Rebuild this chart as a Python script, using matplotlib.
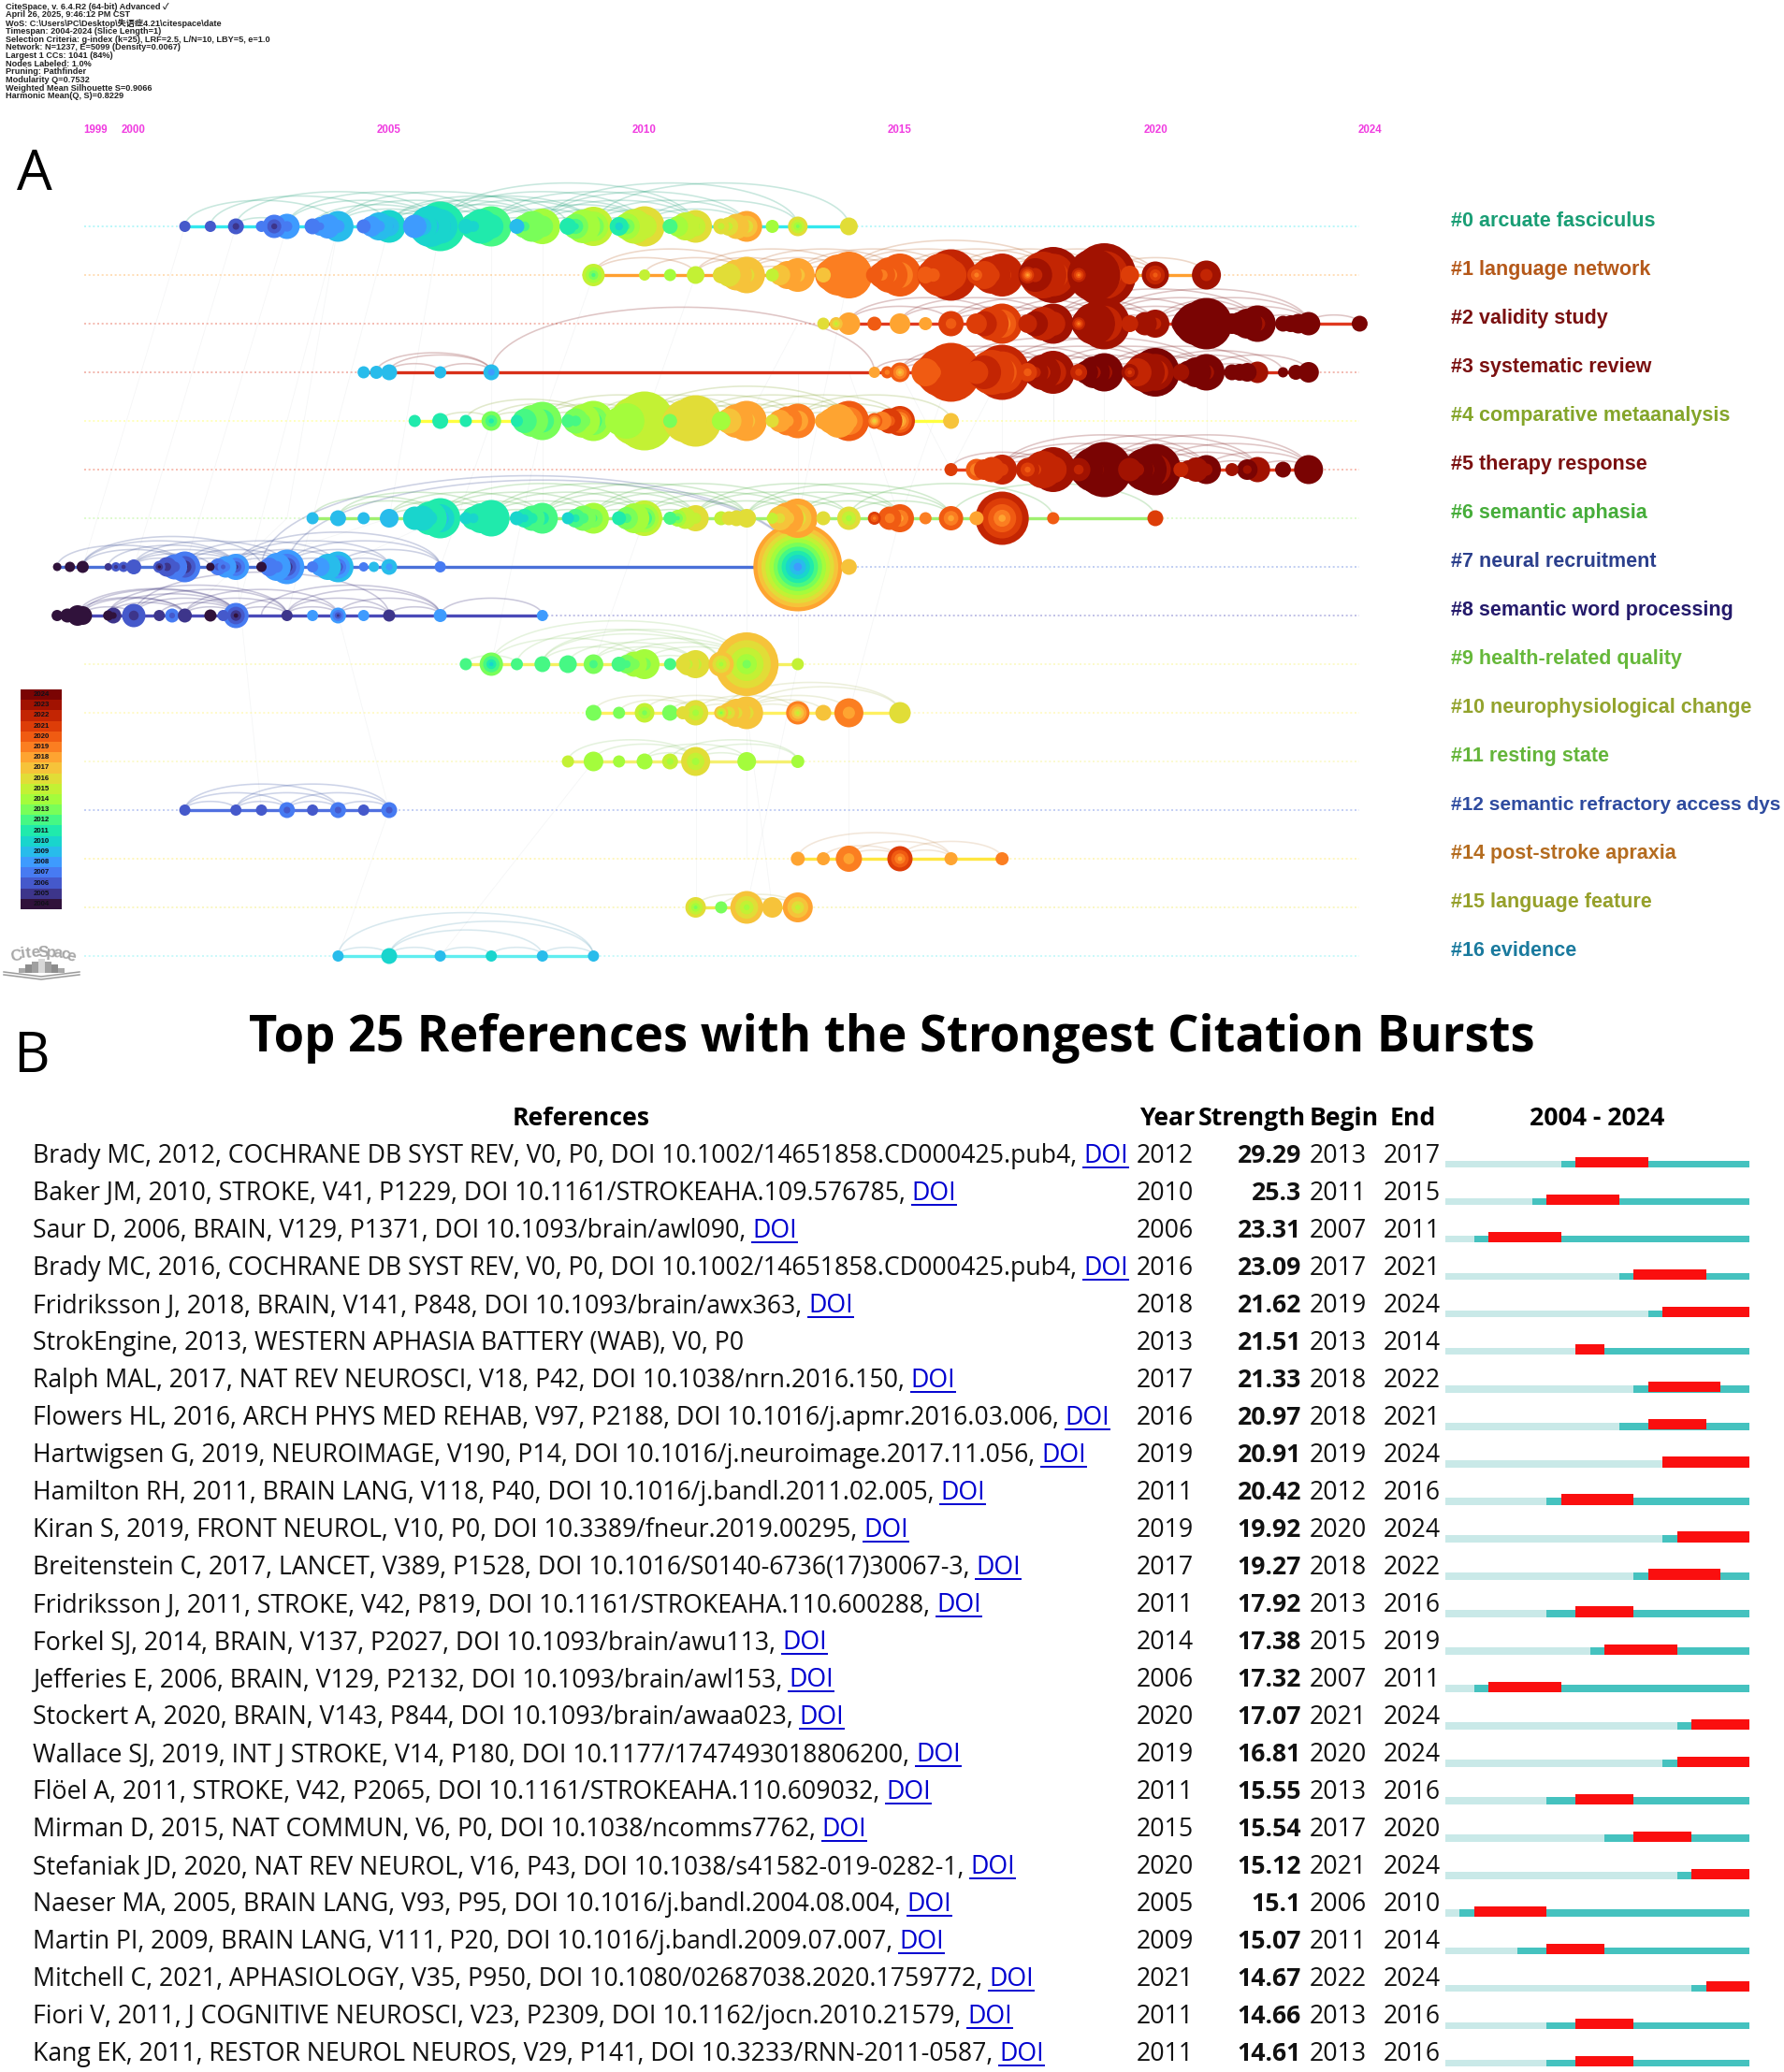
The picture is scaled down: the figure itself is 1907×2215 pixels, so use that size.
import numpy as np
import matplotlib
matplotlib.use("Agg")
import matplotlib.pyplot as plt
from matplotlib.collections import LineCollection

W, H = 1908, 2215
PANEL_A_BOTTOM = 1063

info_lines = [
    "CiteSpace, v. 6.4.R2 (64-bit) Advanced ✓",
    "April 26, 2025, 9:46:12 PM CST",
    "WoS: C:\\Users\\PC\\Desktop\\失语症4.21\\citespace\\date",
    "Timespan: 2004-2024 (Slice Length=1)",
    "Selection Criteria: g-index (k=25), LRF=2.5, L/N=10, LBY=5, e=1.0",
    "Network: N=1237, E=5099 (Density=0.0067)",
    "Largest 1 CCs: 1041 (84%)",
    "Nodes Labeled: 1.0%",
    "Pruning: Pathfinder",
    "Modularity Q=0.7532",
    "Weighted Mean Silhouette S=0.9066",
    "Harmonic Mean(Q, S)=0.8229",
]
axis_years = [1999, 2000, 2005, 2010, 2015, 2020, 2024]
legend_years = list(range(2004, 2025))

cluster_names = [
    "#0 arcuate fasciculus", "#1 language network", "#2 validity study", "#3 systematic review",
    "#4 comparative metaanalysis", "#5 therapy response", "#6 semantic aphasia", "#7 neural recruitment",
    "#8 semantic word processing", "#9 health-related quality", "#10 neurophysiological change",
    "#11 resting state", "#12 semantic refractory access dys", "#14 post-stroke apraxia",
    "#15 language feature", "#16 evidence",
]
cluster_colors = [
    "#1a9e75", "#b5591a", "#7a1010", "#7a1010", "#84a52a", "#7a1010", "#46ad3a", "#2b3f8c",
    "#241a6b", "#66b83a", "#93a32d", "#64b53a", "#2e4b9f", "#b46c20", "#96a02a", "#1a7a9e",
]
line_colors = [
    "#33e8ee", "#ffa030", "#e03a20", "#d8301a", "#ffff40", "#e8401e", "#a0f070", "#4a70d8",
    "#4a4ab8", "#f5f060", "#fff060", "#f5f070", "#5070e0", "#ffe640", "#f0e850", "#60eef0",
]

# node year, diameter, first and last citation year for each cluster
c0_year = [2001, 2001.5, 2002, 2002.5, 2002.75, 2003, 2003.5, 2004, 2004.5, 2005, 2005.5, 2006, 2006.5, 2007, 2007.5, 2008, 2008.5, 2009, 2009.5, 2010, 2010.5, 2011, 2011.5, 2012, 2012.5, 2013, 2014]
c0_size = [12, 12, 17, 12, 25, 27, 17, 33, 15, 35, 25, 53, 16, 43, 16, 38, 18, 42, 20, 43, 16, 35, 17, 33, 14, 21, 19]
c0_first = [2006, 2006, 2005, 2007, 2005, 2007, 2007, 2008, 2007, 2008, 2008, 2008, 2010, 2010, 2009, 2012, 2011, 2011, 2010, 2014, 2012, 2014, 2015, 2015, 2014, 2013, 2016]
c0_last = [2006, 2006, 2006, 2007, 2007, 2008, 2007, 2009, 2007, 2010, 2008, 2011, 2010, 2012, 2009, 2014, 2011, 2015, 2011, 2016, 2012, 2016, 2016, 2018, 2014, 2016, 2016]
c0_stack = [(2003.8, 26, 2008, 2008), (2003.65, 20, 2007, 2008), (2004.8, 30, 2008, 2009), (2004.65, 22, 2008, 2008), (2005.8, 44, 2009, 2010), (2005.65, 32, 2008, 2010), (2006.8, 37, 2011, 2011), (2006.65, 28, 2010, 2011), (2007.8, 33, 2013, 2013), (2007.65, 25, 2012, 2013), (2008.8, 36, 2014, 2014), (2008.65, 27, 2011, 2013), (2009.8, 37, 2015, 2015), (2009.65, 28, 2012, 2014), (2010.8, 30, 2015, 2015), (2010.65, 22, 2014, 2014), (2011.8, 27, 2017, 2017), (2011.65, 20, 2015, 2016)]

c1_year = [2009, 2010, 2010.5, 2011, 2011.5, 2012, 2012.5, 2013, 2013.5, 2014, 2014.5, 2015, 2015.5, 2016, 2016.5, 2017, 2017.5, 2018, 2018.5, 2019, 2019.5, 2020, 2021]
c1_size = [24, 12, 13, 19, 18, 39, 14, 36, 16, 50, 18, 46, 18, 55, 20, 46, 18, 60, 20, 68, 20, 29, 31]
c1_first = [2012, 2015, 2014, 2015, 2016, 2016, 2015, 2017, 2017, 2018, 2020, 2018, 2020, 2020, 2019, 2021, 2018, 2019, 2019, 2019, 2021, 2020, 2022]
c1_last = [2015, 2015, 2014, 2015, 2016, 2017, 2015, 2018, 2017, 2019, 2020, 2020, 2020, 2022, 2021, 2022, 2022, 2023, 2023, 2023, 2021, 2023, 2023]
c1_stack = [(2011.8, 33, 2017, 2017), (2011.65, 25, 2016, 2016), (2012.8, 30, 2018, 2018), (2012.65, 22, 2017, 2017), (2013.8, 44, 2019, 2019), (2013.65, 34, 2019, 2019), (2014.8, 38, 2019, 2020), (2014.65, 28, 2019, 2020), (2015.8, 46, 2021, 2021), (2015.65, 34, 2020, 2021), (2016.8, 40, 2021, 2022), (2016.65, 30, 2021, 2021), (2017.8, 50, 2022, 2022), (2017.65, 36, 2022, 2023), (2018.8, 56, 2023, 2023), (2018.65, 40, 2023, 2023)]

c2_year = [2013.5, 2013.75, 2014, 2014.5, 2015, 2015.5, 2016, 2016.5, 2017, 2017.5, 2018, 2018.5, 2019, 2019.5, 2020, 2020.5, 2021, 2021.5, 2022, 2022.5, 2023, 2024]
c2_size = [13, 14, 24, 15, 22, 14, 27, 22, 43, 20, 43, 18, 55, 18, 30, 20, 55, 22, 39, 17, 25, 17]
c2_first = [2016, 2015, 2018, 2020, 2018, 2018, 2020, 2021, 2018, 2022, 2021, 2019, 2020, 2022, 2022, 2024, 2023, 2024, 2023, 2024, 2024, 2024]
c2_last = [2016, 2017, 2018, 2020, 2018, 2018, 2021, 2021, 2021, 2022, 2023, 2023, 2023, 2022, 2023, 2024, 2024, 2024, 2024, 2024, 2024, 2024]
c2_stack = [(2016.8, 36, 2021, 2021), (2016.65, 27, 2022, 2022), (2017.8, 36, 2022, 2022), (2017.65, 27, 2023, 2023), (2018.8, 45, 2023, 2023), (2018.65, 32, 2023, 2023), (2019.8, 25, 2023, 2023), (2020.8, 46, 2024, 2024), (2020.65, 34, 2024, 2024), (2021.8, 32, 2024, 2024), (2021.65, 25, 2024, 2024), (2022.8, 21, 2024, 2024), (2022.65, 18, 2024, 2024)]

c3_year = [2004.5, 2004.75, 2005, 2006, 2007, 2014.5, 2014.75, 2015, 2015.5, 2016, 2016.5, 2017, 2017.5, 2018, 2018.5, 2019, 2019.5, 2020, 2020.5, 2021, 2021.5, 2022, 2022.5, 2022.75, 2023]
c3_size = [13, 14, 17, 13, 17, 12, 13, 21, 30, 63, 25, 59, 20, 46, 18, 41, 18, 52, 18, 39, 17, 23, 11, 16, 22]
c3_first = [2009, 2009, 2009, 2009, 2008, 2018, 2019, 2017, 2020, 2020, 2021, 2018, 2020, 2021, 2021, 2023, 2021, 2020, 2023, 2023, 2024, 2023, 2024, 2024, 2024]
c3_last = [2009, 2009, 2009, 2009, 2009, 2018, 2020, 2020, 2020, 2021, 2021, 2022, 2021, 2023, 2022, 2024, 2023, 2024, 2023, 2024, 2024, 2023, 2024, 2024, 2024]
c3_stack = [(2015.8, 52, 2021, 2021), (2015.65, 40, 2020, 2021), (2016.8, 48, 2021, 2021), (2016.65, 36, 2022, 2022), (2017.8, 38, 2022, 2023), (2017.65, 28, 2022, 2023), (2018.8, 34, 2023, 2024), (2018.65, 25, 2024, 2024), (2019.8, 42, 2023, 2023), (2019.65, 30, 2022, 2022), (2020.8, 32, 2024, 2024), (2020.65, 25, 2024, 2024), (2021.8, 20, 2024, 2024), (2021.65, 18, 2024, 2024)]

c4_year = [2005.5, 2006, 2006.5, 2007, 2007.5, 2008, 2008.5, 2009, 2009.5, 2010, 2010.5, 2011, 2011.5, 2012, 2012.5, 2013, 2013.5, 2014, 2014.5, 2015, 2016]
c4_size = [13, 17, 13, 21, 13, 41, 14, 43, 30, 63, 15, 55, 20, 43, 14, 37, 18, 43, 17, 32, 17]
c4_first = [2011, 2011, 2011, 2011, 2011, 2011, 2012, 2011, 2014, 2014, 2013, 2015, 2014, 2017, 2016, 2017, 2018, 2017, 2016, 2016, 2017]
c4_last = [2011, 2011, 2011, 2013, 2011, 2013, 2012, 2014, 2014, 2015, 2013, 2016, 2014, 2018, 2016, 2019, 2018, 2020, 2020, 2021, 2017]
c4_stack = [(2007.8, 34, 2013, 2013), (2007.65, 26, 2012, 2012), (2008.8, 36, 2013, 2014), (2008.65, 27, 2012, 2013), (2009.8, 52, 2015, 2015), (2009.65, 38, 2014, 2014), (2010.8, 46, 2016, 2016), (2010.65, 33, 2016, 2016), (2011.8, 36, 2018, 2018), (2011.65, 27, 2017, 2017), (2012.8, 31, 2018, 2019), (2012.65, 24, 2018, 2018), (2013.8, 36, 2018, 2018), (2013.65, 27, 2018, 2018), (2014.8, 27, 2020, 2021), (2014.65, 20, 2019, 2019)]

c5_year = [2016, 2016.5, 2017, 2017.5, 2018, 2018.5, 2019, 2019.5, 2020, 2020.5, 2021, 2021.5, 2022, 2022.5, 2023]
c5_size = [14, 23, 32, 25, 48, 25, 59, 25, 55, 16, 31, 14, 27, 17, 31]
c5_first = [2021, 2018, 2021, 2020, 2021, 2022, 2023, 2023, 2022, 2022, 2023, 2023, 2023, 2024, 2024]
c5_last = [2021, 2020, 2022, 2022, 2023, 2023, 2024, 2023, 2024, 2022, 2024, 2023, 2023, 2024, 2024]
c5_stack = [(2016.8, 27, 2021, 2021), (2016.65, 22, 2021, 2021), (2017.8, 40, 2022, 2022), (2017.65, 30, 2021, 2022), (2018.8, 48, 2023, 2024), (2018.65, 36, 2024, 2024), (2019.8, 46, 2023, 2024), (2019.65, 34, 2023, 2024), (2020.8, 26, 2023, 2023), (2020.65, 20, 2023, 2023), (2021.8, 22, 2023, 2024)]

c6_year = [2003.5, 2004, 2004.5, 2005, 2005.5, 2006, 2006.5, 2007, 2007.5, 2008, 2008.5, 2009, 2009.5, 2010, 2010.5, 2011, 2011.5, 2012, 2012.5, 2013, 2013.5, 2014, 2014.5, 2015, 2015.5, 2016, 2016.5, 2017, 2018, 2020]
c6_size = [13, 17, 13, 20, 25, 43, 13, 39, 15, 33, 13, 33, 15, 38, 14, 28, 15, 20, 12, 42, 15, 25, 14, 30, 13, 26, 15, 57, 13, 17]
c6_first = [2009, 2009, 2009, 2009, 2010, 2008, 2010, 2011, 2010, 2011, 2010, 2012, 2011, 2010, 2012, 2015, 2015, 2016, 2015, 2015, 2016, 2014, 2019, 2018, 2019, 2018, 2018, 2018, 2020, 2021]
c6_last = [2009, 2009, 2009, 2009, 2010, 2011, 2010, 2011, 2010, 2012, 2010, 2014, 2011, 2015, 2012, 2016, 2015, 2016, 2015, 2018, 2016, 2016, 2021, 2020, 2019, 2020, 2018, 2022, 2020, 2021]
c6_stack = [(2005.8, 36, 2010, 2011), (2005.65, 27, 2010, 2010), (2006.8, 32, 2011, 2011), (2006.65, 25, 2010, 2011), (2007.8, 27, 2011, 2012), (2007.65, 20, 2010, 2011), (2008.8, 27, 2012, 2013), (2008.65, 20, 2011, 2012), (2009.8, 32, 2014, 2014), (2009.65, 24, 2012, 2013), (2010.8, 23, 2015, 2015), (2010.65, 18, 2012, 2014), (2011.8, 17, 2016, 2016), (2011.65, 15, 2016, 2016), (2012.8, 34, 2017, 2018), (2012.65, 26, 2016, 2017), (2014.8, 25, 2019, 2020)]

c7_year = [1998.5, 1998.75, 1999, 1999.5, 1999.65, 1999.8, 2000, 2000.5, 2001, 2001.5, 2001.75, 2002, 2002.5, 2003, 2003.5, 2004, 2004.5, 2004.7, 2005, 2006, 2013, 2014]
c7_size = [9, 11, 13, 8, 10, 11, 16, 13, 33, 9, 12, 28, 11, 37, 12, 33, 10, 11, 17, 12, 95, 17]
c7_first = [2004, 2004, 2004, 2005, 2005, 2005, 2006, 2004, 2004, 2004, 2006, 2005, 2004, 2004, 2007, 2005, 2007, 2009, 2008, 2007, 2008, 2017]
c7_last = [2004, 2004, 2004, 2005, 2006, 2006, 2006, 2006, 2007, 2004, 2007, 2008, 2004, 2008, 2007, 2009, 2007, 2009, 2009, 2007, 2018, 2017]
c7_stack = [(2000.8, 27, 2006, 2007), (2000.65, 21, 2005, 2006), (2001.8, 23, 2007, 2008), (2001.65, 18, 2006, 2007), (2002.8, 30, 2007, 2008), (2002.65, 20, 2007, 2007), (2003.8, 28, 2009, 2009), (2003.65, 20, 2008, 2008)]

c8_year = [1998.5, 1998.7, 1998.9, 1999, 1999.5, 1999.6, 2000, 2000.5, 2000.75, 2001, 2001.5, 2001.75, 2002, 2003, 2003.5, 2004, 2004.5, 2005, 2006, 2008]
c8_size = [12, 15, 22, 20, 11, 17, 25, 12, 15, 15, 13, 12, 27, 12, 12, 17, 12, 13, 14, 12]
c8_first = [2004, 2004, 2004, 2004, 2004, 2004, 2005, 2005, 2006, 2005, 2004, 2006, 2004, 2005, 2008, 2005, 2008, 2005, 2008, 2008]
c8_last = [2004, 2004, 2004, 2004, 2004, 2005, 2006, 2005, 2007, 2005, 2004, 2006, 2007, 2005, 2008, 2008, 2008, 2005, 2008, 2008]
c8_stack = []

c9_year = [2006.5, 2007, 2007.5, 2008, 2008.5, 2009, 2009.5, 2010, 2010.5, 2010.75, 2011, 2011.5, 2012, 2013]
c9_size = [13, 25, 13, 17, 19, 21, 16, 32, 13, 16, 30, 27, 68, 13]
c9_first = [2012, 2010, 2012, 2012, 2012, 2012, 2012, 2013, 2012, 2016, 2015, 2014, 2013, 2015]
c9_last = [2012, 2013, 2012, 2012, 2012, 2013, 2012, 2014, 2012, 2016, 2016, 2017, 2017, 2015]
c9_stack = [(2009.8, 27, 2013, 2014), (2009.65, 20, 2012, 2013), (2010.85, 24, 2015, 2016)]

c10_year = [2009, 2009.5, 2010, 2010.5, 2010.75, 2011, 2011.5, 2012, 2013, 2013.5, 2014, 2015]
c10_size = [17, 13, 21, 17, 14, 27, 15, 35, 25, 17, 31, 23]
c10_first = [2013, 2013, 2013, 2013, 2016, 2014, 2013, 2016, 2015, 2017, 2018, 2016]
c10_last = [2013, 2013, 2015, 2013, 2016, 2016, 2017, 2017, 2019, 2017, 2019, 2016]
c10_stack = [(2011.8, 30, 2016, 2017), (2011.65, 22, 2015, 2017)]

c11_year = [2008.5, 2009, 2009.5, 2010, 2010.5, 2011, 2012, 2013]
c11_size = [13, 21, 13, 17, 17, 31, 20, 14]
c11_first = [2015, 2014, 2014, 2014, 2014, 2014, 2014, 2014]
c11_last = [2015, 2014, 2014, 2014, 2015, 2016, 2014, 2014]

c12_year = [2001, 2002, 2002.5, 2003, 2003.5, 2004, 2004.5, 2005]
c12_size = [12, 12, 12, 17, 12, 17, 12, 17]
c12_first = [2006, 2006, 2006, 2006, 2006, 2006, 2006, 2006]
c12_last = [2006, 2006, 2006, 2007, 2006, 2007, 2006, 2007]

c14_year = [2013, 2013.5, 2014, 2015, 2016, 2017]
c14_size = [15, 14, 28, 27, 14, 14]
c14_first = [2018, 2018, 2018, 2018, 2018, 2019]
c14_last = [2018, 2018, 2019, 2021, 2018, 2019]

c15_year = [2011, 2011.5, 2012, 2012.5, 2013]
c15_size = [22, 13, 35, 22, 32]
c15_first = [2013, 2013, 2014, 2017, 2015]
c15_last = [2016, 2013, 2017, 2017, 2018]

c16_year = [2004, 2005, 2006, 2007, 2008, 2009]
c16_size = [12, 17, 12, 12, 12, 12]
c16_first = [2009, 2010, 2009, 2010, 2009, 2009]
c16_last = [2009, 2010, 2009, 2010, 2009, 2009]

# co-citation arcs (from year, to year)
c0_arcs = [(2001, 2004), (2001.5, 2005), (2002, 2003), (2002, 2006), (2003, 2006), (2003, 2007), (2003.5, 2006), (2004, 2006), (2004, 2007), (2004, 2008), (2004.5, 2006), (2005, 2006), (2005, 2007), (2005, 2008), (2005, 2008.5), (2005.5, 2008), (2005.5, 2009), (2006, 2007), (2006, 2008), (2006, 2009), (2006, 2010), (2006, 2011), (2007, 2008), (2007, 2009), (2007, 2010), (2007, 2011), (2007.5, 2010), (2008, 2009), (2008, 2010), (2008, 2011), (2008, 2012), (2008, 2013), (2009, 2010), (2009, 2011), (2009, 2012), (2009, 2014), (2010, 2011), (2010, 2012), (2010, 2013)]
c1_arcs = [(2009, 2011), (2009, 2012), (2010, 2012), (2011, 2013), (2011, 2014), (2012, 2013), (2012, 2014), (2012, 2015), (2013, 2014), (2013, 2015), (2013, 2016), (2014, 2015), (2014, 2016), (2014, 2017), (2014, 2018), (2015, 2016), (2015, 2017), (2015, 2018), (2015.5, 2017), (2016, 2017), (2016, 2018), (2016, 2019), (2017, 2018), (2017, 2019), (2017, 2020), (2018, 2019), (2018, 2020), (2019, 2020), (2019, 2021)]
c2_arcs = [(2014, 2016), (2014, 2017), (2015, 2017), (2015, 2018), (2016, 2017), (2016, 2018), (2016, 2019), (2017, 2018), (2017, 2019), (2017, 2020), (2018, 2019), (2018, 2020), (2018, 2021), (2018, 2022), (2019, 2020), (2019, 2021), (2019, 2022), (2019, 2023), (2020, 2021), (2020, 2022), (2020, 2023), (2021, 2022), (2021, 2023), (2022, 2023), (2023, 2024)]
c3_arcs = [(2004.75, 2007), (2005, 2006), (2006, 2007), (2005, 2007), (2007, 2014.5), (2014.5, 2016), (2015, 2016), (2015, 2017), (2015, 2018), (2016, 2017), (2016, 2018), (2016, 2019), (2016, 2020), (2017, 2018), (2017, 2019), (2017, 2020), (2017, 2021), (2018, 2019), (2018, 2020), (2018, 2021), (2019, 2020), (2019, 2021), (2019, 2022), (2020, 2021), (2020, 2022), (2020, 2022.5), (2021, 2022), (2021, 2023)]
c4_arcs = [(2006, 2007), (2007, 2008), (2007, 2009), (2006.5, 2009), (2008, 2009), (2008, 2010), (2008, 2011), (2009, 2010), (2009, 2011), (2009, 2012), (2010, 2011), (2010, 2012), (2010, 2013), (2010, 2014), (2011, 2012), (2011, 2013), (2011, 2014), (2012, 2013), (2012, 2014), (2012, 2015), (2013, 2014), (2013, 2015), (2014, 2015), (2013, 2016)]
c5_arcs = [(2016, 2018), (2016.5, 2018), (2017, 2018), (2017, 2019), (2017, 2020), (2017, 2021), (2018, 2019), (2018, 2020), (2018, 2021), (2018, 2022), (2019, 2020), (2019, 2021), (2019, 2022), (2019, 2023), (2020, 2021), (2020, 2022), (2020, 2023), (2021, 2022), (2021, 2023), (2022, 2023)]
c6_arcs = [(2003.5, 2006), (2004, 2006), (2004, 2007), (2005, 2006), (2005, 2007), (2005, 2008), (2006, 2007), (2006, 2008), (2006, 2009), (2006, 2010), (2007, 2008), (2007, 2009), (2007, 2010), (2007, 2011), (2008, 2009), (2008, 2010), (2008, 2011), (2008, 2012), (2009, 2010), (2009, 2011), (2009, 2012), (2009, 2013), (2010, 2011), (2010, 2012), (2010, 2013), (2011, 2013), (2011, 2014), (2011, 2015), (2012, 2014), (2012, 2015), (2012, 2016), (2013, 2015), (2013, 2016), (2014, 2016), (2014, 2018), (2016, 2020)]
c7_arcs = [(1998.5, 2001), (1999, 2001), (1999, 2002), (1999, 2002.5), (2000, 2001), (2000, 2002), (2000, 2003), (2000.5, 2002), (2001, 2002), (2001, 2003), (2001, 2004), (2001.5, 2003), (2002, 2003), (2002, 2004), (2002, 2005), (2002, 2006), (2003, 2004), (2003, 2005), (2003, 2006), (2003, 2013), (2002.5, 2013), (2004, 2005), (2004, 2006), (1999.5, 2002), (2000, 2001.5)]
c8_arcs = [(1998.9, 2001), (1998.9, 2002), (1999, 2000), (1999, 2001), (1999, 2002), (1999.5, 2001), (1999.5, 2002), (1999.5, 2003), (2000, 2002), (2000, 2003), (2000.5, 2002), (2001, 2002), (2001, 2003), (2001, 2004), (2002, 2003), (2002, 2004), (2003, 2004), (2003, 2005), (2003, 2006), (2004, 2005), (2004, 2006), (2005, 2006), (2006, 2008), (2002.5, 2006), (2000, 2005)]
c9_arcs = [(2006.5, 2007.5), (2007, 2010), (2007, 2012), (2007.5, 2011.5), (2008, 2011.5), (2008, 2010), (2008.5, 2011), (2009, 2011), (2009, 2012), (2009.5, 2012), (2010, 2012), (2010, 2011), (2008, 2012)]
c10_arcs = [(2009, 2011), (2010, 2012), (2009.5, 2011), (2010.5, 2012), (2011, 2013), (2011, 2012), (2012, 2013), (2012, 2014), (2012, 2015), (2012, 2013.5), (2011.5, 2015)]
c11_arcs = [(2008.5, 2011), (2009, 2011), (2010, 2012), (2010, 2011), (2011, 2013), (2011, 2012), (2010.5, 2013)]
c12_arcs = [(2001, 2004), (2001, 2003), (2002, 2004), (2002, 2003), (2002, 2005), (2003, 2005), (2003, 2004), (2004, 2005), (2001, 2002)]
c14_arcs = [(2013, 2016), (2014, 2015), (2014, 2016), (2013.5, 2015), (2015, 2017), (2015, 2016)]
c15_arcs = [(2011, 2012.5), (2011.5, 2013), (2012, 2013)]
c16_arcs = [(2004, 2005), (2005, 2006), (2004, 2009), (2005, 2008), (2006, 2007), (2005, 2009), (2007, 2008), (2008, 2009)]

# faint links between clusters (year, row, year, row)
cross_links = [
    (2001, 0, 1999, 7), (2002, 0, 2000, 7), (2003, 0, 2001, 7), (2004, 0, 2002, 8), (2005, 0, 2003, 8),
    (2006, 0, 2005, 6), (2004, 0, 2003, 6), (2007, 0, 2007, 6), (2008, 0, 2008, 6), (2003, 6, 2001, 8),
    (2005, 6, 2002, 7), (2006, 6, 2004, 7), (2007, 4, 2006, 7), (2009, 1, 2008, 4), (2011, 1, 2010, 4),
    (2013, 2, 2012, 4), (2014, 1, 2013, 6), (2016, 3, 2015, 6), (2017, 3, 2016, 5), (2018, 3, 2018, 5),
    (2019, 3, 2019, 5), (2020, 3, 2020, 5), (2021, 3, 2021, 5), (2017, 2, 2017, 5), (2018, 1, 2018, 4),
    (2015, 3, 2016, 5), (2014, 3, 2015, 6), (2013, 3, 2013, 9), (2012, 6, 2012, 13), (2013, 9, 2012, 14),
    (2011, 9, 2011, 14), (2009, 11, 2006, 15), (2005, 12, 2004, 15), (2012, 10, 2012.5, 14), (2014, 10, 2014, 13),
    (2002, 7, 2002.5, 12), (2004, 8, 2005, 12), (2010, 6, 2009, 9), (2008, 4, 2007, 9), (2015, 6, 2014, 10),
]

ref_texts = [
    "Brady MC, 2012, COCHRANE DB SYST REV, V0, P0, DOI 10.1002/14651858.CD000425.pub4,",
    "Baker JM, 2010, STROKE, V41, P1229, DOI 10.1161/STROKEAHA.109.576785,",
    "Saur D, 2006, BRAIN, V129, P1371, DOI 10.1093/brain/awl090,",
    "Brady MC, 2016, COCHRANE DB SYST REV, V0, P0, DOI 10.1002/14651858.CD000425.pub4,",
    "Fridriksson J, 2018, BRAIN, V141, P848, DOI 10.1093/brain/awx363,",
    "StrokEngine, 2013, WESTERN APHASIA BATTERY (WAB), V0, P0",
    "Ralph MAL, 2017, NAT REV NEUROSCI, V18, P42, DOI 10.1038/nrn.2016.150,",
    "Flowers HL, 2016, ARCH PHYS MED REHAB, V97, P2188, DOI 10.1016/j.apmr.2016.03.006,",
    "Hartwigsen G, 2019, NEUROIMAGE, V190, P14, DOI 10.1016/j.neuroimage.2017.11.056,",
    "Hamilton RH, 2011, BRAIN LANG, V118, P40, DOI 10.1016/j.bandl.2011.02.005,",
    "Kiran S, 2019, FRONT NEUROL, V10, P0, DOI 10.3389/fneur.2019.00295,",
    "Breitenstein C, 2017, LANCET, V389, P1528, DOI 10.1016/S0140-6736(17)30067-3,",
    "Fridriksson J, 2011, STROKE, V42, P819, DOI 10.1161/STROKEAHA.110.600288,",
    "Forkel SJ, 2014, BRAIN, V137, P2027, DOI 10.1093/brain/awu113,",
    "Jefferies E, 2006, BRAIN, V129, P2132, DOI 10.1093/brain/awl153,",
    "Stockert A, 2020, BRAIN, V143, P844, DOI 10.1093/brain/awaa023,",
    "Wallace SJ, 2019, INT J STROKE, V14, P180, DOI 10.1177/1747493018806200,",
    "Flöel A, 2011, STROKE, V42, P2065, DOI 10.1161/STROKEAHA.110.609032,",
    "Mirman D, 2015, NAT COMMUN, V6, P0, DOI 10.1038/ncomms7762,",
    "Stefaniak JD, 2020, NAT REV NEUROL, V16, P43, DOI 10.1038/s41582-019-0282-1,",
    "Naeser MA, 2005, BRAIN LANG, V93, P95, DOI 10.1016/j.bandl.2004.08.004,",
    "Martin PI, 2009, BRAIN LANG, V111, P20, DOI 10.1016/j.bandl.2009.07.007,",
    "Mitchell C, 2021, APHASIOLOGY, V35, P950, DOI 10.1080/02687038.2020.1759772,",
    "Fiori V, 2011, J COGNITIVE NEUROSCI, V23, P2309, DOI 10.1162/jocn.2010.21579,",
    "Kang EK, 2011, RESTOR NEUROL NEUROS, V29, P141, DOI 10.3233/RNN-2011-0587,",
]
ref_year = [2012, 2010, 2006, 2016, 2018, 2013, 2017, 2016, 2019, 2011, 2019, 2017, 2011, 2014, 2006, 2020, 2019, 2011, 2015, 2020, 2005, 2009, 2021, 2011, 2011]
ref_strength = ["29.29", "25.3", "23.31", "23.09", "21.62", "21.51", "21.33", "20.97", "20.91", "20.42", "19.92", "19.27", "17.92", "17.38", "17.32", "17.07", "16.81", "15.55", "15.54", "15.12", "15.1", "15.07", "14.67", "14.66", "14.61"]
ref_begin = [2013, 2011, 2007, 2017, 2019, 2013, 2018, 2018, 2019, 2012, 2020, 2018, 2013, 2015, 2007, 2021, 2020, 2013, 2017, 2021, 2006, 2011, 2022, 2013, 2013]
ref_end = [2017, 2015, 2011, 2021, 2024, 2014, 2022, 2021, 2024, 2016, 2024, 2022, 2016, 2019, 2011, 2024, 2024, 2016, 2020, 2024, 2010, 2014, 2024, 2016, 2016]

clusters = [
    (c0_year, c0_size, c0_first, c0_last, c0_arcs, c0_stack), (c1_year, c1_size, c1_first, c1_last, c1_arcs, c1_stack),
    (c2_year, c2_size, c2_first, c2_last, c2_arcs, c2_stack), (c3_year, c3_size, c3_first, c3_last, c3_arcs, c3_stack),
    (c4_year, c4_size, c4_first, c4_last, c4_arcs, c4_stack), (c5_year, c5_size, c5_first, c5_last, c5_arcs, c5_stack),
    (c6_year, c6_size, c6_first, c6_last, c6_arcs, c6_stack), (c7_year, c7_size, c7_first, c7_last, c7_arcs, c7_stack),
    (c8_year, c8_size, c8_first, c8_last, c8_arcs, c8_stack), (c9_year, c9_size, c9_first, c9_last, c9_arcs, c9_stack),
    (c10_year, c10_size, c10_first, c10_last, c10_arcs, c10_stack), (c11_year, c11_size, c11_first, c11_last, c11_arcs, []),
    (c12_year, c12_size, c12_first, c12_last, c12_arcs, []), (c14_year, c14_size, c14_first, c14_last, c14_arcs, []),
    (c15_year, c15_size, c15_first, c15_last, c15_arcs, []), (c16_year, c16_size, c16_first, c16_last, c16_arcs, []),
]

PX_PER_YEAR = 54.6
ROW_PX = 52
X_2005 = 416
ROW0_Y = 242
HEAD_FONT = ["Liberation Sans", "Noto Sans CJK SC", "DejaVu Sans"]
TABLE_FONT = "Open Sans"
TABLE_SIZE = 19.2

year_colors = plt.get_cmap("turbo")(np.linspace(0, 1, len(legend_years)))


def year_color(year):
    return year_colors[int(year) - legend_years[0]]


def year_at(px):
    return 2005 + (px - X_2005) / PX_PER_YEAR


fig = plt.figure(figsize=(W / 100, H / 100), dpi=100, facecolor="white")

# page layer in pixel coordinates for the free text
page = fig.add_axes([0, 0, 1, 1], zorder=5)
page.set_xlim(0, W)
page.set_ylim(H, 0)
page.axis("off")

# panel A timeline: x in years, y in cluster rows
ax = fig.add_axes([0, 1 - PANEL_A_BOTTOM / H, 1, PANEL_A_BOTTOM / H], zorder=1)
ax.set_xlim(year_at(0), year_at(W))
ax.set_ylim((PANEL_A_BOTTOM - ROW0_Y) / ROW_PX, -ROW0_Y / ROW_PX)
ax.axis("off")

cross_segs = [[(a, b), (c, d)] for a, b, c, d in cross_links]
ax.add_collection(LineCollection(cross_segs, colors="#c8ccd0", linewidths=0.6, alpha=0.18, zorder=1))

ring_x, ring_y, ring_s, ring_c = [], [], [], []
nodes = []
t = np.linspace(0, np.pi, 60)
for row, (years, sizes, firsts, lasts, arcs, stack) in enumerate(clusters):
    ax.plot([year_at(90), year_at(1453)], [row, row], color=line_colors[row], lw=1.2, alpha=0.4,
            linestyle=(0, (1.2, 1.6)), zorder=1.5)
    ax.plot([min(years), max(years)], [row, row], color=line_colors[row], lw=2.4, solid_capstyle="butt", zorder=3)
    segs = []
    for a, b in arcs:
        width = b - a
        rise = 0.17 * width * PX_PER_YEAR / ROW_PX
        segs.append(np.column_stack([(a + b) / 2 - width / 2 * np.cos(t), row - rise * np.sin(t)]))
    arc_alpha = 0.17 if row >= 9 and row != 12 else 0.24
    ax.add_collection(LineCollection(segs, colors=cluster_colors[row], linewidths=1.15, alpha=arc_alpha, zorder=2))
    for year, size, first, last in zip(years, sizes, firsts, lasts):
        nodes.append((size, year, row, first, last))
    for year, size, first, last in stack:
        nodes.append((size, year, row, first, last))

# largest nodes at the back, tree rings from last citation year inwards
nodes.sort(key=lambda n: -n[0])
for size, year, row, first, last in nodes:
    n_rings = last - first + 1
    for k in range(n_rings):
        frac = ((n_rings - k) / n_rings) ** (1.25 if n_rings < 8 else 1.0)
        ring_x.append(year)
        ring_y.append(row)
        ring_s.append((size * frac * 0.72) ** 2)
        ring_c.append(year_color(last - k))
ax.scatter(ring_x, ring_y, s=ring_s, c=ring_c, linewidths=0, zorder=4)

# year axis labels
label_pos = {1999: 1999.25, 2024: 2024.2}
for year in axis_years:
    ax.text(label_pos.get(year, year), (139 - ROW0_Y) / ROW_PX, str(year), color="#f03ce0",
            fontsize=8.3, fontweight="bold", family=HEAD_FONT, ha="center", va="center", zorder=6)

for row, name in enumerate(cluster_names):
    # the longest label reaches the right edge of the page
    label_size = 15.0 if row == 12 else 15.5
    ax.text(year_at(1551), row - 0.115, name, color=cluster_colors[row], fontsize=label_size, fontweight="bold",
            family=HEAD_FONT, ha="left", va="center", zorder=6)

# info block
for i, line in enumerate(info_lines):
    page.text(6.5, 7.2 + i * 8.7, line, fontsize=6.6, fontweight="bold", family=HEAD_FONT, color="#222222",
              ha="left", va="center")

page.text(18, 203, "A", fontsize=43, family=TABLE_FONT, color="black", ha="left", va="baseline")
page.text(14, 1146, "B", fontsize=43, family=TABLE_FONT, color="black", ha="left", va="baseline")

# year legend
legend_ax = fig.add_axes([22 / W, 1 - 972 / H, 44 / W, 235 / H], zorder=3)
legend_ax.barh(legend_years, [1] * len(legend_years), height=1, color=year_colors)
legend_ax.set_xlim(0, 1)
legend_ax.set_ylim(legend_years[0] - 0.5, legend_years[-1] + 0.5)
legend_ax.axis("off")
for year in legend_years:
    legend_ax.text(0.5, year, str(year), fontsize=5.6, fontweight="bold", family="Liberation Sans",
                   color="#10101a", ha="center", va="center")

# CiteSpace logo
logo_letters = "CiteSpace"
logo_x = [17, 24.5, 30.5, 37.5, 46, 54.5, 62, 69.5, 76.5]
logo_y = [1022, 1019.5, 1019, 1018.5, 1018.5, 1018.5, 1019, 1020.5, 1022.5]
logo_rot = [12, 9, 6, 3, 0, -3, -6, -9, -12]
for ch, lx, ly, rot in zip(logo_letters, logo_x, logo_y, logo_rot):
    page.text(lx, ly, ch, fontsize=12.5, fontweight="bold", family="Liberation Sans", color="#a8a8a8", rotation=rot,
              rotation_mode="anchor", ha="center", va="center")
page.bar([24, 31, 38, 45, 52, 59, 66], [-5, -9, -12, -15, -12, -9, -5], bottom=1040, width=7,
         color=["#a8a8a8", "#8c8c8c", "#a0a0a0", "#d8d8d8", "#a0a0a0", "#8c8c8c", "#a8a8a8"], align="center")
page.plot([4, 44, 85], [1039, 1044, 1039], color="#9a9a9a", lw=1.1)
page.plot([4, 44, 85], [1042, 1047, 1042], color="#9a9a9a", lw=1.1)

# panel B title
page.text(953, 1110, "Top 25 References with the Strongest Citation Bursts", fontsize=37.8, fontweight="bold",
          family=TABLE_FONT, color="black", ha="center", va="center")

# table header
header_y = 1196
page.text(621, header_y, "References", fontsize=TABLE_SIZE, fontweight="bold", family=TABLE_FONT, ha="center", va="center")
for label, hx in [("Year", 1218), ("Strength", 1281), ("Begin", 1400), ("End", 1486)]:
    page.text(hx, header_y, label, fontsize=TABLE_SIZE, fontweight="bold", family=TABLE_FONT, ha="left", va="center")
page.text(1707, header_y, "2004 - 2024", fontsize=TABLE_SIZE, fontweight="bold", family=TABLE_FONT, ha="center", va="center")

# table rows
renderer = fig.canvas.get_renderer()
ROW_H = 40.04
for i, ref in enumerate(ref_texts):
    y = 1235.5 + i * ROW_H
    label = page.text(35, y, ref, fontsize=TABLE_SIZE, family=TABLE_FONT, color="#111111", ha="left", va="center")
    if ref.endswith(","):
        end_px = label.get_window_extent(renderer).x1
        doi = page.text(end_px + 7, y, "DOI", fontsize=TABLE_SIZE, family=TABLE_FONT, color="#0000d0", ha="left", va="center")
        doi_box = doi.get_window_extent(renderer)
        page.plot([doi_box.x0, doi_box.x1], [y + 12, y + 12], color="#0000d0", lw=1.4)
    page.text(1215, y, str(ref_year[i]), fontsize=TABLE_SIZE, family=TABLE_FONT, color="#111111", ha="left", va="center")
    page.text(1391, y, ref_strength[i], fontsize=TABLE_SIZE, fontweight="bold", family=TABLE_FONT, color="#111111", ha="right", va="center")
    page.text(1400, y, str(ref_begin[i]), fontsize=TABLE_SIZE, family=TABLE_FONT, color="#111111", ha="left", va="center")
    page.text(1479, y, str(ref_end[i]), fontsize=TABLE_SIZE, family=TABLE_FONT, color="#111111", ha="left", va="center")

# burst bars: x in years, y in table rows
top_px = 1233 - 0.5 * ROW_H
burst_ax = fig.add_axes([1545 / W, 0, 325 / W, 1 - top_px / H], zorder=2)
burst_ax.set_xlim(2004, 2025)
burst_ax.set_ylim((H - top_px) / ROW_H - 0.5, -0.5)
burst_ax.axis("off")
rows = np.arange(len(ref_texts))
pub = np.array(ref_year)
begin = np.array(ref_begin)
end = np.array(ref_end)
burst_ax.barh(rows + 0.287, pub - 2004, left=2004, height=0.19, color="#c9e9e8")
burst_ax.barh(rows + 0.287, 2025 - pub, left=pub, height=0.19, color="#45c2bf")
burst_ax.barh(rows + 0.24, end + 1 - begin, left=begin, height=0.28, color="#fa0f0f")

fig.savefig("out.png", dpi=100, facecolor="white")
